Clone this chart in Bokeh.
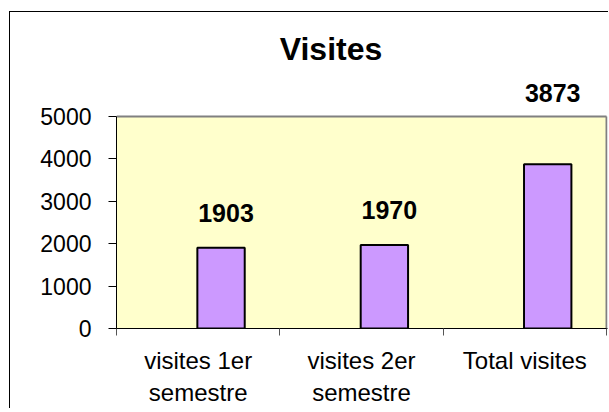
from bokeh.plotting import figure
from bokeh.models import ColumnDataSource, FixedTicker, LabelSet, Range1d
from bokeh.core.properties import value
from bokeh.embed import file_html
from bokeh.resources import INLINE

# ---- data ----
title_text = "Visites"
categories = ["visites 1er\nsemestre", "visites 2er\nsemestre", "Total visites"]
values = [1903, 1970, 3873]
y_ticks = [0, 1000, 2000, 3000, 4000, 5000]

# ---- style ----
FONT = "Liberation Sans"
bar_shift = 0.14
bar_width = 0.29
label_lift_px = [35, 35, 71]
ymax = y_ticks[-1]
ntop = ymax * 304 / 212

n = len(categories)
xs = [i + 0.5 + bar_shift for i in range(n)]
src = ColumnDataSource(dict(x=xs, top=values, txt=[str(v) for v in values], lift=label_lift_px))

p = figure(output_backend="svg", toolbar_location=None,
           frame_width=491, frame_height=304,
           min_border_left=106, min_border_right=1, min_border_top=12, min_border_bottom=72,
           x_range=Range1d(0, n + 0.006), y_range=Range1d(0, ntop),
           background_fill_color="white", border_fill_color="white")
p.styles = {"border-left": "1px solid black", "border-top": "1px solid black",
            "margin-top": "11px", "margin-left": "9px"}
p.outline_line_color = None
p.grid.visible = False

# plot area
p.quad(left=[0], right=[n], bottom=[0], top=[ymax], fill_color="#FFFFCC", line_color=None)
p.segment(x0=[0, n], y0=[ymax, 0], x1=[n, n], y1=[ymax, ymax], line_color="#808080", line_width=2)

# bars
p.vbar(x="x", top="top", width=bar_width, bottom=0, source=src,
       fill_color="#CC99FF", line_color="black", line_width=2)

# data labels
labels = LabelSet(x="x", y="top", text="txt", source=src, x_offset=5, y_offset="lift",
                  text_align="center", text_baseline="middle",
                  text_font=value(FONT), text_font_size="25px", text_font_style="bold",
                  text_color="black")
p.add_layout(labels)

# title
p.text(x=[(330.5 - 116) / 163.33], y=[ymax * (328 - 48) / 212], text=[title_text],
       text_align="center", text_baseline="middle", text_font=value(FONT),
       text_font_size="32px", text_font_style="bold", text_color="black")

# y axis
ya = p.yaxis[0]
ya.ticker = FixedTicker(ticks=y_ticks)
ya.bounds = (0, ymax)
ya.axis_line_color = "black"
ya.major_tick_in = 0
ya.major_tick_out = 8
ya.minor_tick_line_color = None
ya.major_label_standoff = 17
ya.major_label_text_font = FONT
ya.major_label_text_font_size = "23px"
ya.major_label_text_color = "black"

# x axis
xa = p.xaxis[0]
xa.ticker = FixedTicker(ticks=[i + 0.5 for i in range(n)], minor_ticks=list(range(n + 1)))
xa.major_label_overrides = {i + 0.5: c for i, c in enumerate(categories)}
xa.axis_line_color = "black"
xa.major_tick_in = 0
xa.major_tick_out = 0
xa.minor_tick_in = 0
xa.minor_tick_out = 7
xa.minor_tick_line_color = "#555555"
xa.major_label_standoff = 11
xa.major_label_text_font = FONT
xa.major_label_text_font_size = "24px"
xa.major_label_text_color = "black"

open("out.html", "w").write(file_html(p, INLINE))
